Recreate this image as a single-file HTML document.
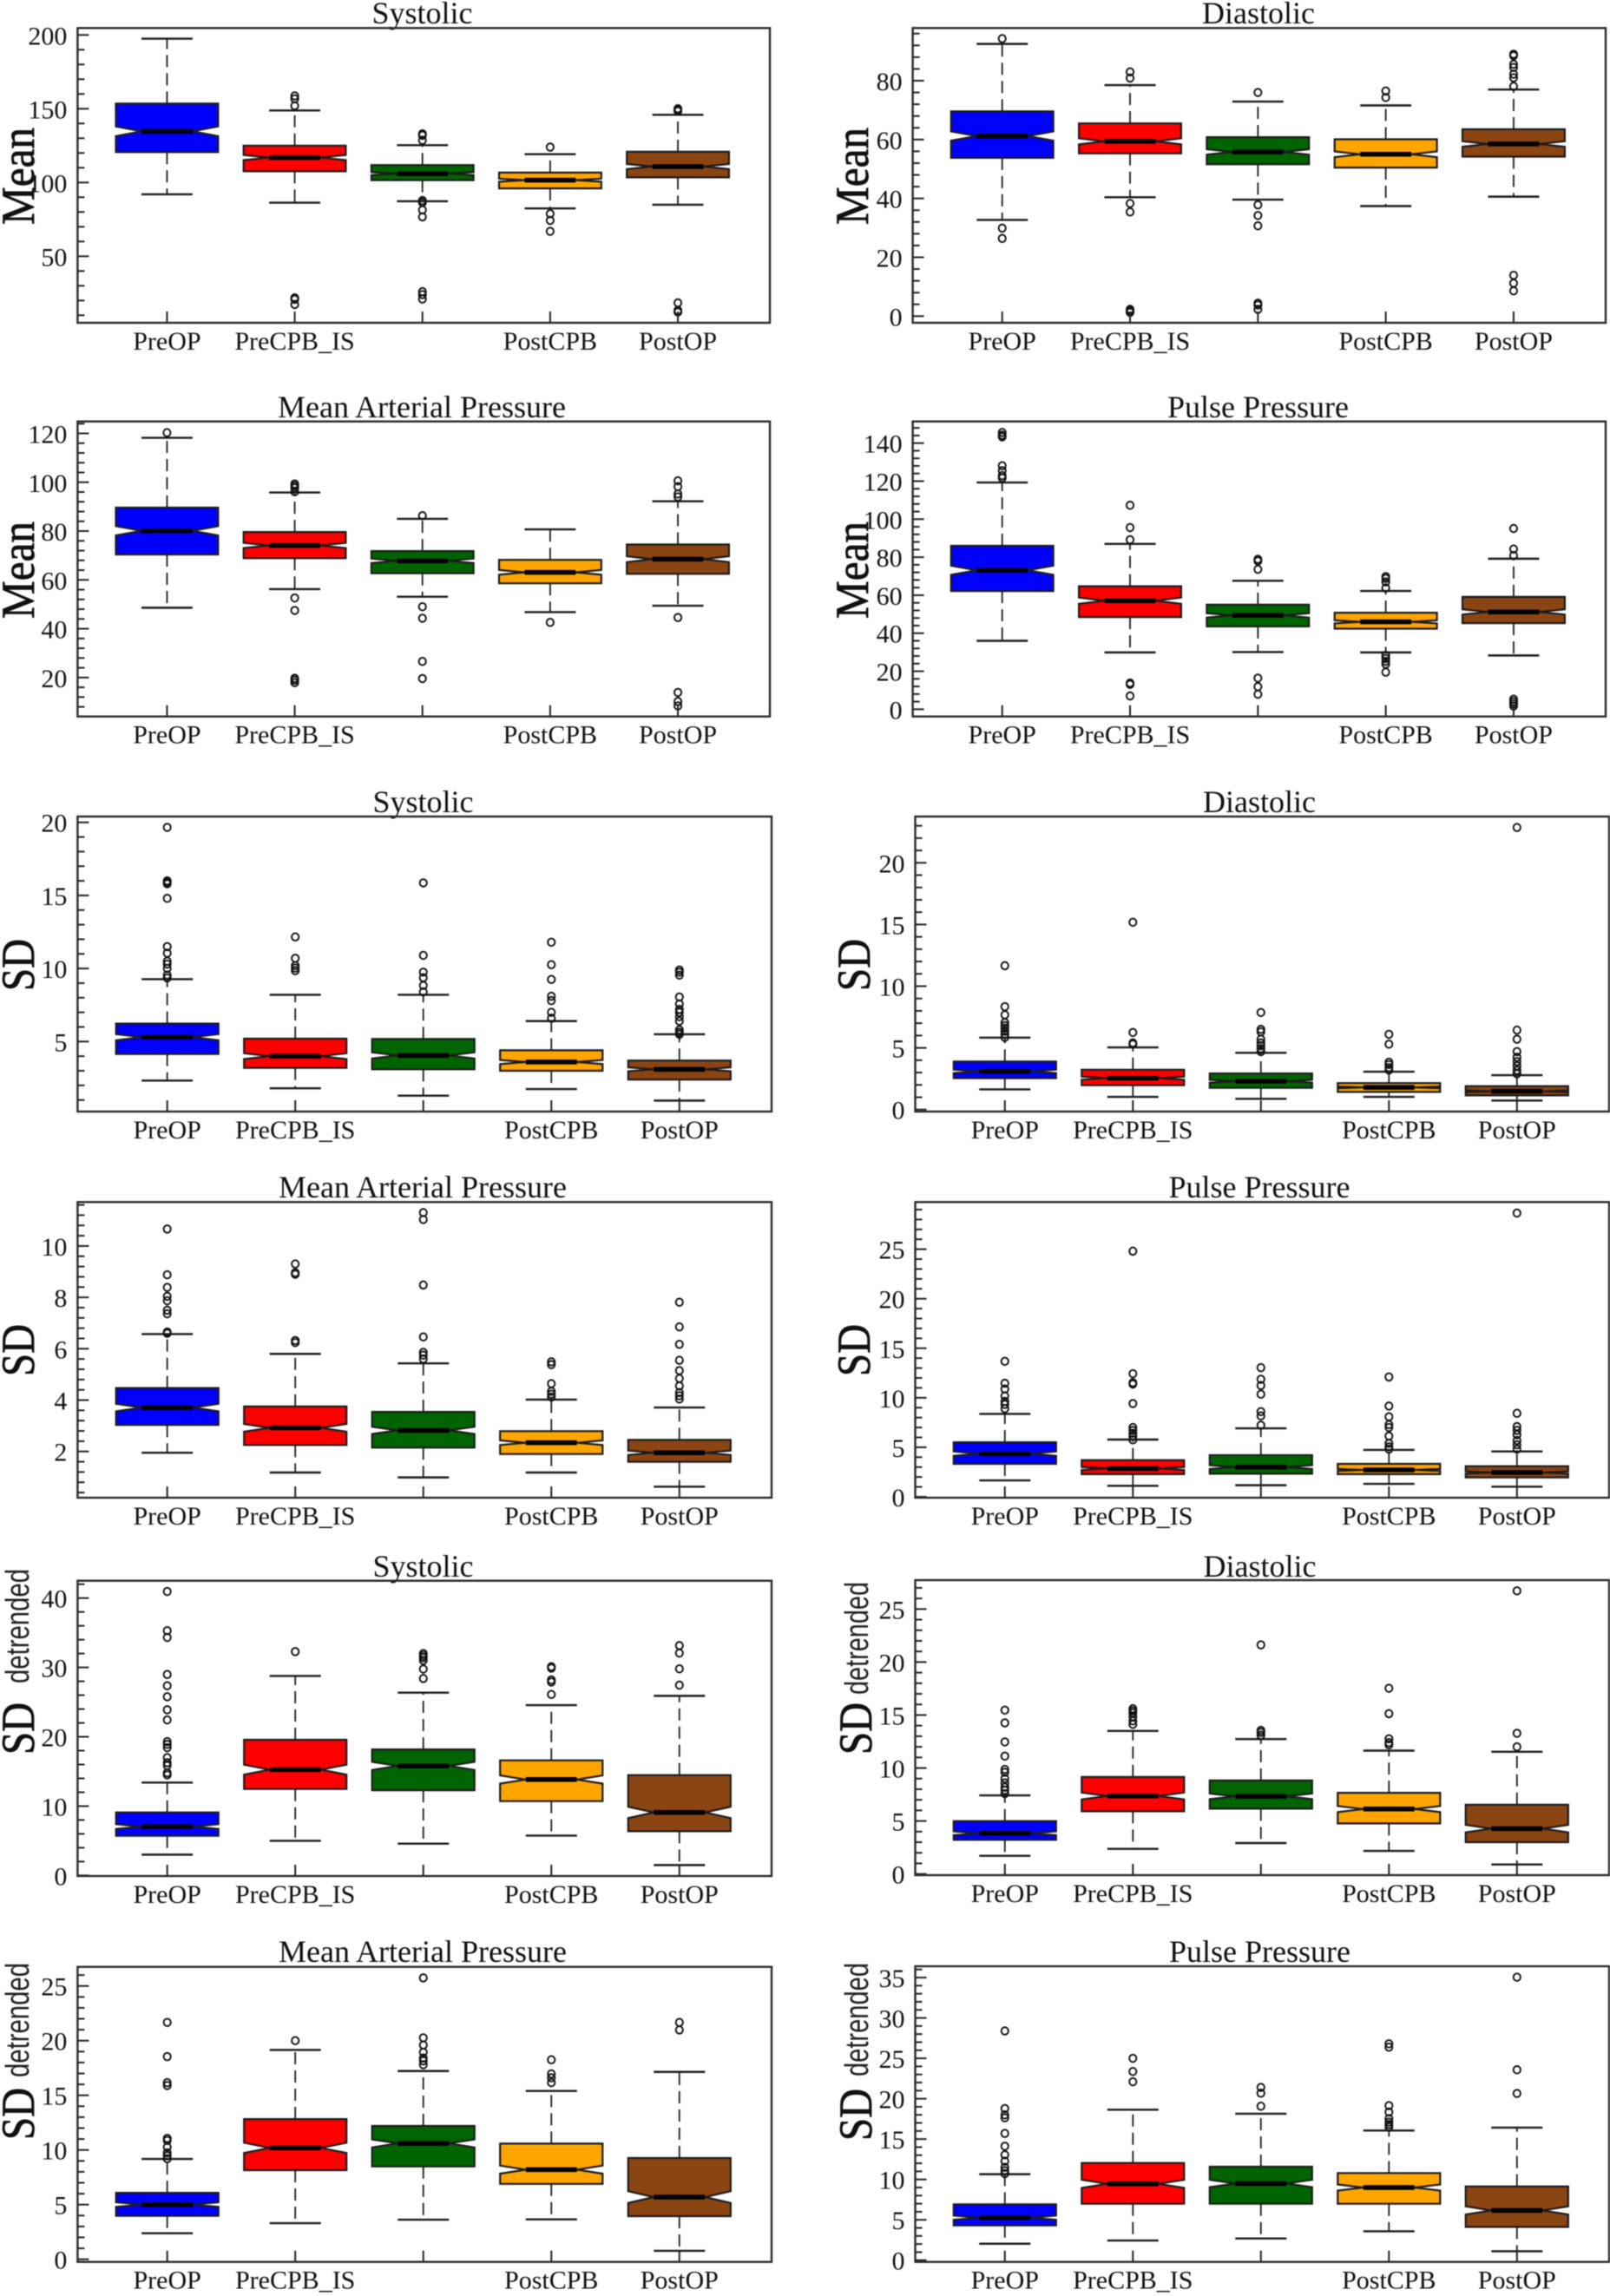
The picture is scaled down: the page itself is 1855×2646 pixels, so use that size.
<!DOCTYPE html>
<html lang="en">
<head>
<meta charset="utf-8">
<title>Blood pressure notched boxplots</title>
<style>
html,body{margin:0;padding:0;background:#fff;}
#figure{display:block;width:1855px;height:2646px;filter:blur(.45px);}
.title{font:36px "Liberation Serif",serif;fill:#111;text-anchor:middle;}
.ylab{font:54px "Liberation Serif",serif;fill:#111;stroke:#111;stroke-width:.8px;text-anchor:middle;}
.ysub{font:38px "Liberation Sans",sans-serif;fill:#222;text-anchor:start;}
.tick-label{font:30px "Liberation Serif",serif;fill:#111;}
</style>
</head>
<body>
<svg id="figure" xmlns="http://www.w3.org/2000/svg" width="1855" height="2646" viewBox="0 0 1855 2646">
  <rect x="0" y="0" width="1855" height="2646" fill="#fff"/>

  <text class="title" x="486.5" y="27">Systolic</text>
  <text class="title" x="1450" y="27">Diastolic</text>
  <text class="title" x="486" y="481">Mean Arterial Pressure</text>
  <text class="title" x="1449.5" y="481">Pulse Pressure</text>
  <text class="title" x="487.5" y="936">Systolic</text>
  <text class="title" x="1451" y="936">Diastolic</text>
  <text class="title" x="487" y="1380">Mean Arterial Pressure</text>
  <text class="title" x="1451" y="1380">Pulse Pressure</text>
  <text class="title" x="487.5" y="1817">Systolic</text>
  <text class="title" x="1451.5" y="1817">Diastolic</text>
  <text class="title" x="487" y="2261">Mean Arterial Pressure</text>
  <text class="title" x="1451.5" y="2261">Pulse Pressure</text>

  <text class="ylab" transform="translate(39,203) rotate(-90)" textLength="112" lengthAdjust="spacingAndGlyphs">Mean</text>
  <text class="ylab" transform="translate(1000,203) rotate(-90)" textLength="112" lengthAdjust="spacingAndGlyphs">Mean</text>
  <text class="ylab" transform="translate(39,657) rotate(-90)" textLength="112" lengthAdjust="spacingAndGlyphs">Mean</text>
  <text class="ylab" transform="translate(1000,657) rotate(-90)" textLength="112" lengthAdjust="spacingAndGlyphs">Mean</text>
  <text class="ylab" transform="translate(39,1112) rotate(-90)" textLength="60" lengthAdjust="spacingAndGlyphs">SD</text>
  <text class="ylab" transform="translate(1002,1112) rotate(-90)" textLength="60" lengthAdjust="spacingAndGlyphs">SD</text>
  <text class="ylab" transform="translate(39,1556) rotate(-90)" textLength="60" lengthAdjust="spacingAndGlyphs">SD</text>
  <text class="ylab" transform="translate(1002,1556) rotate(-90)" textLength="60" lengthAdjust="spacingAndGlyphs">SD</text>
  <text class="ylab" transform="translate(39,1992) rotate(-90)" textLength="60" lengthAdjust="spacingAndGlyphs">SD</text>
  <text class="ysub" transform="translate(33,1940) rotate(-90)" textLength="132" lengthAdjust="spacingAndGlyphs">detrended</text>
  <text class="ylab" transform="translate(1004,1992) rotate(-90)" textLength="60" lengthAdjust="spacingAndGlyphs">SD</text>
  <text class="ysub" transform="translate(1000,1953) rotate(-90)" textLength="130" lengthAdjust="spacingAndGlyphs">detrended</text>
  <text class="ylab" transform="translate(39,2436) rotate(-90)" textLength="60" lengthAdjust="spacingAndGlyphs">SD</text>
  <text class="ysub" transform="translate(33,2394) rotate(-90)" textLength="132" lengthAdjust="spacingAndGlyphs">detrended</text>
  <text class="ylab" transform="translate(1004,2437) rotate(-90)" textLength="60" lengthAdjust="spacingAndGlyphs">SD</text>
  <text class="ysub" transform="translate(1000,2393) rotate(-90)" textLength="131" lengthAdjust="spacingAndGlyphs">detrended</text>

  <g id="charts"></g>
</svg>

<script>
const categories = ['PreOP', 'PreCPB_IS', '', 'PostCPB', 'PostOP'];
const boxColors = ['#0000ff', '#ff0000', '#006400', '#ffa500', '#8b4513'];

/* Mean – Systolic */
const meanSysTicks = [50, 100, 150, 200];
const meanSysLow = [92, 86.3, 87.3, 82.4, 84.9];
const meanSysQ1 = [120.6, 107.6, 101.6, 96, 103.5];
const meanSysMedian = [134.7, 116.9, 106, 101.6, 110.8];
const meanSysQ3 = [153.5, 125, 111.8, 106.7, 120.8];
const meanSysHigh = [197.5, 148.8, 125.3, 119.2, 145.9];
const meanSysOutliers = [[], [158.7, 156.7, 152, 21.8, 20.8, 17.3], [133, 132, 128.6, 87.8, 86.5, 81.4, 76.7, 26, 24, 21], [124, 78.8, 74.3, 66.9], [150, 149, 148.4, 18.4, 13.3, 12.2]];

/* Mean – Diastolic */
const meanDiaTicks = [0, 20, 40, 60, 80];
const meanDiaLow = [32.7, 40.4, 39.6, 37.4, 40.6];
const meanDiaQ1 = [53.8, 55.3, 51.6, 50.5, 54.2];
const meanDiaMedian = [61.2, 59.4, 55.8, 55, 58.5];
const meanDiaQ3 = [69.6, 65.5, 60.8, 60.1, 63.5];
const meanDiaHigh = [92.5, 78.5, 72.9, 71.6, 77];
const meanDiaOutliers = [[94.3, 29.9, 26.4], [83, 80.9, 38.3, 35.4, 2.3, 1.8, 1.3], [76, 37.8, 34.2, 30.7, 4.4, 3.8, 2.3], [76.5, 74.3], [89, 88.5, 85.6, 84.5, 82.2, 81, 78.1, 13.9, 11.2, 8.6]];

/* Mean – Mean Arterial Pressure */
const meanMapTicks = [20, 40, 60, 80, 100, 120];
const meanMapLow = [48.6, 56.2, 53.1, 46.8, 49.4];
const meanMapQ1 = [70.4, 68.9, 62.7, 58.6, 62.5];
const meanMapMedian = [80.1, 74.1, 67.8, 63.1, 68.5];
const meanMapQ3 = [89.6, 79.6, 71.8, 68.2, 74.5];
const meanMapHigh = [118.2, 95.8, 85, 80.7, 92.2];
const meanMapOutliers = [[120.3], [99.3, 98.5, 97.7, 96.1, 52.6, 47.5, 19.7, 18.9, 17.9], [86.3, 49, 44.3, 26.6, 19.6], [42.6], [100.6, 98.2, 95.2, 94, 44.6, 13.9, 10.2, 8.4]];

/* Mean – Pulse Pressure */
const meanPulseTicks = [0, 20, 40, 60, 80, 100, 120, 140];
const meanPulseLow = [36, 29.9, 30.1, 29.9, 28.3];
const meanPulseQ1 = [62.2, 48.5, 43.6, 42.4, 45.3];
const meanPulseMedian = [73.1, 57.1, 49.4, 46, 51.2];
const meanPulseQ3 = [86, 64.7, 55, 50.8, 59.1];
const meanPulseHigh = [119.3, 87, 67.6, 62.2, 79.2];
const meanPulseOutliers = [[145.6, 144.2, 143.3, 128.1, 125.5, 122.9, 121.7], [107.3, 95.6, 89.2, 13.8, 13.1, 7], [78.9, 78, 73.6, 16.4, 11.9, 7.9], [69.8, 68.8, 67, 63.8, 28.3, 26.7, 25.2, 23.7, 19.5], [95.1, 84.3, 80.9, 5.3, 4.1, 2.9, 1.7]];

/* SD – Systolic */
const sdSysTicks = [5, 10, 15, 20];
const sdSysLow = [2.33, 1.8, 1.3, 1.75, 0.96];
const sdSysQ1 = [4.15, 3.2, 3.1, 3, 2.4];
const sdSysMedian = [5.3, 4, 4.05, 3.6, 3.1];
const sdSysQ3 = [6.23, 5.2, 5.18, 4.4, 3.7];
const sdSysHigh = [9.27, 8.2, 8.2, 6.4, 5.5];
const sdSysOutliers = [[19.66, 16, 15.9, 15.8, 14.8, 11.5, 11.05, 10.5, 10.3, 10, 9.55, 9.35], [12.16, 10.7, 10.2, 10.03, 9.85], [15.86, 10.9, 9.75, 9.37, 8.84, 8.4], [11.8, 10.26, 9.25, 8.1, 7.8, 7, 6.6], [9.9, 9.75, 9.55, 8.05, 7.57, 7.2, 7, 6.7, 6.4, 5.8, 5.63, 5.5]];

/* SD – Diastolic */
const sdDiaTicks = [0, 5, 10, 15, 20];
const sdDiaLow = [1.64, 1.03, 0.87, 1.03, 0.73];
const sdDiaQ1 = [2.55, 1.97, 1.76, 1.43, 1.15];
const sdDiaMedian = [3.1, 2.55, 2.3, 1.8, 1.48];
const sdDiaQ3 = [3.9, 3.23, 2.93, 2.15, 1.9];
const sdDiaHigh = [5.83, 5.04, 4.6, 3.07, 2.79];
const sdDiaOutliers = [[11.66, 8.34, 7.68, 7.05, 6.8, 6.6, 6.35, 6.1, 5.85], [15.18, 6.25, 5.4, 5.3], [7.87, 6.5, 6.3, 5.7, 5.4, 5.18, 4.94, 4.7], [6.1, 5.3, 3.84, 3.65, 3.4, 3.2], [22.86, 6.44, 5.7, 4.7, 4.24, 3.89, 3.54, 3.18, 2.9]];

/* SD – Mean Arterial Pressure */
const sdMapTicks = [2, 4, 6, 8, 10];
const sdMapLow = [1.95, 1.18, 0.99, 1.18, 0.63];
const sdMapQ1 = [3.03, 2.25, 2.15, 1.9, 1.6];
const sdMapMedian = [3.71, 2.92, 2.82, 2.34, 1.95];
const sdMapQ3 = [4.47, 3.75, 3.54, 2.79, 2.45];
const sdMapHigh = [6.57, 5.8, 5.43, 4.02, 3.71];
const sdMapOutliers = [[10.66, 8.88, 8.39, 8.04, 7.87, 7.5, 7.36, 6.65, 6.6], [9.3, 8.96, 8.9, 6.32, 6.24], [11.3, 11.03, 8.48, 6.46, 5.86, 5.75, 5.6], [5.49, 5.38, 4.64, 4.34, 4.23, 4.12], [7.81, 6.85, 6.17, 5.55, 5.15, 4.84, 4.55, 4.29, 4.17, 4.04]];

/* SD – Pulse Pressure */
const sdPulseTicks = [0, 5, 10, 15, 20, 25];
const sdPulseLow = [1.66, 1.11, 1.17, 1.31, 1.02];
const sdPulseQ1 = [3.33, 2.28, 2.33, 2.28, 1.95];
const sdPulseMedian = [4.35, 2.86, 3, 2.71, 2.45];
const sdPulseQ3 = [5.51, 3.7, 4.2, 3.33, 3.09];
const sdPulseHigh = [8.37, 5.78, 6.91, 4.73, 4.58];
const sdPulseOutliers = [[13.68, 11.46, 10.88, 10.18, 9.63, 9.33, 8.9], [24.8, 12.43, 11.52, 11.38, 9.42, 7, 6.7, 6.42, 6.13, 5.75], [13.04, 11.87, 11.23, 10.36, 8.6, 8.17, 7.23], [12.1, 9.16, 8.08, 7.29, 7, 6.13, 5.4, 5.05, 4.81], [28.65, 8.43, 7.09, 6.71, 6.27, 5.69, 5.25, 4.81]];

/* SD detrended – Systolic */
const detSysTicks = [0, 10, 20, 30, 40];
const detSysLow = [3, 5, 4.59, 5.75, 1.5];
const detSysQ1 = [5.71, 12.47, 12.3, 10.72, 6.38];
const detSysMedian = [7.05, 15.26, 15.8, 13.84, 9.09];
const detSysQ3 = [9.09, 19.56, 18.18, 16.6, 14.47];
const detSysHigh = [13.39, 28.77, 26.36, 24.56, 25.9];
const detSysOutliers = [[40.95, 35.3, 34.32, 28.98, 27.36, 25.77, 23.89, 22.43, 19.3, 18.9, 18.43, 17, 16.26, 15.85, 14.8, 14.5], [32.28], [32, 31.7, 31.4, 31, 29.77, 28.4], [30.1, 29.9, 28.2, 27.9, 26.1], [33.15, 32.07, 29.8, 27.44]];

/* SD detrended – Diastolic */
const detDiaTicks = [0, 5, 10, 15, 20, 25];
const detDiaLow = [1.72, 2.37, 2.92, 2.18, 0.9];
const detDiaQ1 = [3.22, 5.92, 6.16, 4.77, 3];
const detDiaMedian = [3.84, 7.36, 7.33, 6.13, 4.28];
const detDiaQ3 = [4.99, 9.16, 8.83, 7.66, 6.54];
const detDiaHigh = [7.42, 13.5, 12.73, 11.64, 11.53];
const detDiaOutliers = [[15.46, 14.26, 12.46, 11.12, 9.87, 9.6, 9, 8.59, 8.18, 7.9, 7.58], [15.6, 15.4, 15.2, 14.86, 14.45, 14.12], [21.62, 13.55, 13.36, 13.09], [17.53, 15.13, 12.76, 12.4, 12.19], [26.72, 13.28, 12]];

/* SD detrended – Mean Arterial Pressure */
const detMapTicks = [0, 5, 10, 15, 20, 25];
const detMapLow = [2.38, 3.3, 3.62, 3.65, 0.77];
const detMapQ1 = [3.97, 8.15, 8.49, 6.9, 3.94];
const detMapMedian = [5, 10.19, 10.6, 8.2, 5.69];
const detMapQ3 = [6.08, 12.83, 12.2, 10.58, 9.26];
const detMapHigh = [9.18, 19.15, 17.22, 15.4, 17.14];
const detMapOutliers = [[21.67, 18.54, 16.16, 15.9, 11.06, 10.87, 10.26, 9.74, 9.47, 9.2], [20], [25.74, 20.26, 19.6, 18.94, 18.41, 18.15, 17.8], [18.25, 16.96, 16.6, 16.16], [21.67, 20.98]];

/* SD detrended – Pulse Pressure */
const detPulseTicks = [0, 5, 10, 15, 20, 25, 30, 35];
const detPulseLow = [2.04, 2.44, 2.69, 3.58, 1.11];
const detPulseQ1 = [4.3, 6.99, 6.99, 6.99, 4.12];
const detPulseMedian = [5.27, 9.46, 9.5, 9, 6.16];
const detPulseQ3 = [6.92, 12.04, 11.58, 10.79, 9.14];
const detPulseHigh = [10.65, 18.64, 18.14, 16.06, 16.42];
const detPulseOutliers = [[28.39, 18.78, 18, 17.63, 15.7, 14.12, 13.05, 12.26, 11.5, 11.08, 10.72], [25, 23.37, 22.1], [21.4, 20.68, 19.07], [26.8, 26.38, 19.14, 18.35, 17.53, 17.1, 16.8, 16.5], [35.05, 23.58, 20.65]];

const panels = [
  {id:'mean-systolic', frame:[89.4,887,32.3,372], domain:[4.9,204.7], minor:10, ticks:meanSysTicks, low:meanSysLow, q1:meanSysQ1, med:meanSysMedian, q3:meanSysQ3, high:meanSysHigh, out:meanSysOutliers},
  {id:'mean-diastolic', frame:[1051.6,1850,32.3,372], domain:[-2.26,97.9], minor:4, ticks:meanDiaTicks, low:meanDiaLow, q1:meanDiaQ1, med:meanDiaMedian, q3:meanDiaQ3, high:meanDiaHigh, out:meanDiaOutliers},
  {id:'mean-map', frame:[89.4,887,485.7,825.7], domain:[4.05,124.9], minor:4, ticks:meanMapTicks, low:meanMapLow, q1:meanMapQ1, med:meanMapMedian, q3:meanMapQ3, high:meanMapHigh, out:meanMapOutliers},
  {id:'mean-pulse', frame:[1051.6,1850,485.7,825.7], domain:[-3.8,151.4], minor:4, ticks:meanPulseTicks, low:meanPulseLow, q1:meanPulseQ1, med:meanPulseMedian, q3:meanPulseQ3, high:meanPulseHigh, out:meanPulseOutliers},
  {id:'sd-systolic', frame:[89.4,889,941,1281], domain:[0.21,20.4], minor:1, ticks:sdSysTicks, low:sdSysLow, q1:sdSysQ1, med:sdSysMedian, q3:sdSysQ3, high:sdSysHigh, out:sdSysOutliers},
  {id:'sd-diastolic', frame:[1054.5,1854,941,1281], domain:[-0.16,23.75], minor:1, ticks:sdDiaTicks, low:sdDiaLow, q1:sdDiaQ1, med:sdDiaMedian, q3:sdDiaQ3, high:sdDiaHigh, out:sdDiaOutliers},
  {id:'sd-map', frame:[89.4,889,1385.3,1726], domain:[0.2,11.71], minor:0.4, ticks:sdMapTicks, low:sdMapLow, q1:sdMapQ1, med:sdMapMedian, q3:sdMapQ3, high:sdMapHigh, out:sdMapOutliers},
  {id:'sd-pulse', frame:[1054.5,1854,1385.3,1726], domain:[-0.09,29.76], minor:1, ticks:sdPulseTicks, low:sdPulseLow, q1:sdPulseQ1, med:sdPulseMedian, q3:sdPulseQ3, high:sdPulseHigh, out:sdPulseOutliers},
  {id:'det-systolic', frame:[89.4,889,1821.7,2162], domain:[-0.08,42.5], minor:2, ticks:detSysTicks, low:detSysLow, q1:detSysQ1, med:detSysMedian, q3:detSysQ3, high:detSysHigh, out:detSysOutliers},
  {id:'det-diastolic', frame:[1054.5,1854,1821,2161], domain:[-0.11,27.73], minor:1, ticks:detDiaTicks, low:detDiaLow, q1:detDiaQ1, med:detDiaMedian, q3:detDiaQ3, high:detDiaHigh, out:detDiaOutliers},
  {id:'det-map', frame:[89.4,889,2266.7,2606.7], domain:[-0.24,26.75], minor:1, ticks:detMapTicks, low:detMapLow, q1:detMapQ1, med:detMapMedian, q3:detMapQ3, high:detMapHigh, out:detMapOutliers},
  {id:'det-pulse', frame:[1054.5,1854,2266,2606.7], domain:[-0.21,36.4], minor:1, ticks:detPulseTicks, low:detPulseLow, q1:detPulseQ1, med:detPulseMedian, q3:detPulseQ3, high:detPulseHigh, out:detPulseOutliers}
];

const SVG_NS = 'http://www.w3.org/2000/svg';
const INK = '#1c1c1c';
const X_MIN = 0.3, X_MAX = 5.72, BOX_HALF = 0.4, CAP_HALF = 0.2, NOTCH_RATIO = 0.1;

function mk(parent, tag, attrs) {
  const el = document.createElementNS(SVG_NS, tag);
  for (const k in attrs) el.setAttribute(k, attrs[k]);
  parent.appendChild(el);
  return el;
}
function xAxis(frame) {
  return function (pos) { return frame[0] + (pos - X_MIN) / (X_MAX - X_MIN) * (frame[1] - frame[0]); };
}
function yAxis(frame, domain) {
  return function (v) { return frame[3] - (v - domain[0]) / (domain[1] - domain[0]) * (frame[3] - frame[2]); };
}

function drawAxes(g, p, x, y) {
  const [l, r, t, b] = p.frame;
  const first = Math.ceil(p.domain[0] / p.minor - 1e-6);
  const last = Math.floor(p.domain[1] / p.minor + 1e-6);
  for (let n = first; n <= last; n++) {
    const v = n * p.minor;
    const isMajor = p.ticks.some(function (m) { return Math.abs(m - v) < 1e-6; });
    const tick = mk(g, 'line', {x1: l, x2: l + (isMajor ? 13 : 8), y1: y(v), y2: y(v), stroke: '#222', 'stroke-width': 2});
    
    
  }
  p.ticks.forEach(function (v) {
    const lab = mk(g, 'text', {x: l - 12, y: y(v) + 11, 'text-anchor': 'end', class: 'tick-label'});
    lab.textContent = String(v);
    
    
  });
  categories.forEach(function (name, i) {
    const cx = x(i + 1);
    const tick = mk(g, 'line', {x1: cx, x2: cx, y1: b - 13, y2: b, stroke: '#222', 'stroke-width': 2});
    
    
    if (name) {
      const lab = mk(g, 'text', {x: cx, y: b + 31, 'text-anchor': 'middle', class: 'tick-label'});
      lab.textContent = name;
      
      
    }
  });
}

function drawBox(g, p, i, x, y) {
  const cx = x(i + 1);
  const xl = x(i + 1 - BOX_HALF), xr = x(i + 1 + BOX_HALF);
  const il = x(i + 1 - CAP_HALF), ir = x(i + 1 + CAP_HALF);
  const q1 = p.q1[i], q3 = p.q3[i], med = p.med[i];
  const notch = (q3 - q1) * NOTCH_RATIO;

  const group = mk(g, 'g', {});
  
  

  [[q3, p.high[i]], [q1, p.low[i]]].forEach(function (pair) {
    const wh = mk(group, 'line', {x1: cx, x2: cx, y1: y(pair[0]), y2: y(pair[1]), stroke: INK, 'stroke-width': 1.8, 'stroke-dasharray': '14 7'});
    
    
    const cap = mk(group, 'line', {x1: il, x2: ir, y1: y(pair[1]), y2: y(pair[1]), stroke: INK, 'stroke-width': 2.4});
    
    
  });

  const pts = [
    [xl, y(q3)], [xr, y(q3)], [xr, y(med + notch)], [ir, y(med)], [xr, y(med - notch)],
    [xr, y(q1)], [xl, y(q1)], [xl, y(med - notch)], [il, y(med)], [xl, y(med + notch)]
  ].map(function (pt) { return pt[0].toFixed(1) + ',' + pt[1].toFixed(1); }).join(' ');
  const body = mk(group, 'polygon', {points: pts, fill: boxColors[i], stroke: INK, 'stroke-width': 2.2, 'stroke-linejoin': 'miter'});
  
  

  const medLine = mk(group, 'line', {x1: il, x2: ir, y1: y(med), y2: y(med), stroke: '#000', 'stroke-width': 5.5});
  
  

  p.out[i].forEach(function (v) {
    const c = mk(group, 'ellipse', {cx: cx, cy: y(v), rx: 4.1, ry: 4.3, fill: 'none', stroke: '#111', 'stroke-width': 1.9});
    
    
  });
}

const root = document.getElementById('charts');
panels.forEach(function (p) {
  const g = mk(root, 'g', {});
  
  
  const x = xAxis(p.frame);
  const y = yAxis(p.frame, p.domain);
  categories.forEach(function (_, i) { drawBox(g, p, i, x, y); });
  drawAxes(g, p, x, y);
  const [l, r, t, b] = p.frame;
  const border = mk(g, 'rect', {x: l, y: t, width: r - l, height: b - t, fill: 'none', stroke: '#2a2a2a', 'stroke-width': 2.4});
  
  
});
</script>
</body>
</html>
